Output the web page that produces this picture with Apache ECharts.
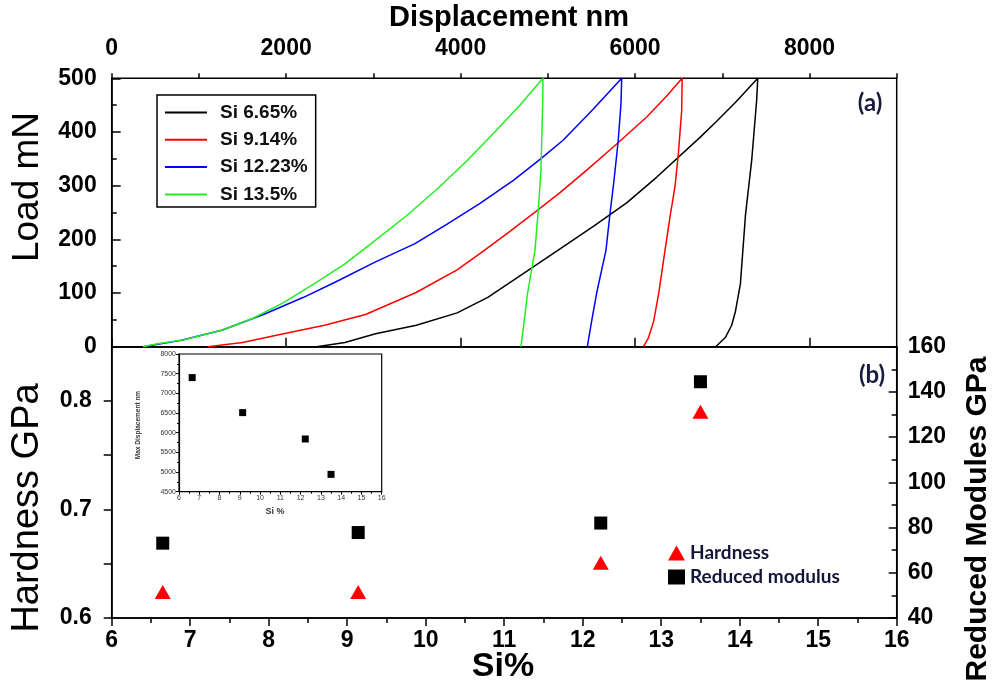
<!DOCTYPE html>
<html><head><meta charset="utf-8">
<script src="https://cdn.jsdelivr.net/npm/echarts@6/dist/echarts.min.js"></script>
<style>html,body{margin:0;padding:0;background:#fff}#c{width:993px;height:690px}</style>
</head><body><div id="c"></div>
<script>
// ---- data ----
const curveNames = ['Si 6.65%', 'Si 9.14%', 'Si 12.23%', 'Si 13.5%'];
// [displacement nm, load mN] : loading then unloading
const curveSi665 = [[2350,0],[2674,8],[3025,24],[3493,40],[3961,63],[4312,92],[4663,130],[5102,178],[5522,224],[5904,268],[6250,316],[6745,390],[6936,420],[7150,455],[7407,500],
  [7395,460],[7338,348],[7266,245],[7208,117],[7150,65],[7108,40],[7035,17],[6925,0]];
const curveSi914 = [[1100,0],[1500,8],[1970,24],[2440,40],[2910,60],[3490,101],[3960,143],[4261,178],[4566,215],[4872,253],[5140,287],[5446,329],[5751,372],[6134,428],[6363,467],[6540,500],
  [6535,440],[6497,360],[6458,298],[6401,242],[6344,180],[6272,100],[6213,47],[6150,15],[6096,0]];
const curveSi1223 = [[360,0],[800,12],[1270,31],[1740,60],[2200,92],[2560,120],[3025,158],[3477,192],[3841,228],[4223,267],[4605,310],[4911,349],[5178,385],[5522,443],[5847,500],
  [5839,453],[5808,385],[5759,310],[5713,248],[5667,180],[5560,100],[5505,50],[5453,0]];
const curveSi135 = [[360,0],[510,5],[830,13],[1270,31],[1620,53],[1970,82],[2320,117],[2670,154],[2960,190],[3380,244],[3760,298],[4070,346],[4375,397],[4680,450],[4945,500],
  [4942,460],[4922,330],[4891,255],[4853,180],[4768,100],[4731,50],[4692,0]];

const siPercent = [6.65, 9.14, 12.23, 13.5];
const hardnessGPa = [0.624, 0.624, 0.651, 0.790];
const reducedModulusGPa = [73.1, 77.8, 82.0, 144.5];
const maxDisplacementNm = [7400, 6510, 5840, 4940];

const hardnessTickLabels = [0.6, 0.7, 0.8];
const displacementTickLabels = [0, 2000, 4000, 6000, 8000];

// ---- chart ----
const colors = ['#000000', '#ff0000', '#0000ff', '#22ee22'];
const curves = [curveSi665, curveSi914, curveSi1223, curveSi135];
const F = 'Liberation Sans, Arial, sans-serif';
const lbl = (extra) => Object.assign({fontFamily: F, fontWeight: 'bold', fontSize: 23, color: '#000'}, extra);
const axLine = {show: true, lineStyle: {color: '#000', width: 1.5}};

const chart = echarts.init(document.getElementById('c'));
const option = {
  animation: false,
  backgroundColor: '#fff',
  grid: [
    {left: 111.7, top: 78.3, width: 785, height: 268.4, show: true, borderColor: '#000', borderWidth: 1.5},
    {left: 111.7, top: 346.7, width: 785, height: 271.3, show: true, borderColor: '#000', borderWidth: 1.5},
    {left: 179, top: 354, width: 202.7, height: 137.7, show: true, borderColor: '#000', borderWidth: 1.2}
  ],
  xAxis: [
    {gridIndex: 0, type: 'value', position: 'top', min: 0, max: 9000, interval: 2000,
      axisLine: axLine, axisTick: {show: true, inside: false, length: 9, lineStyle: {width: 1.5}},
      axisLabel: lbl({margin: 18, showMaxLabel: false,
        formatter: v => displacementTickLabels.includes(v) ? String(v) : ''}),
      splitLine: {show: false}},
    {gridIndex: 0, type: 'value', position: 'top', min: 0, max: 9000, interval: 1000,
      axisLine: {show: false}, axisTick: {show: true, inside: false, length: 5, lineStyle: {width: 1.5, color: '#000'}},
      axisLabel: {show: false}, splitLine: {show: false}},
    {gridIndex: 1, type: 'value', position: 'bottom', min: 6, max: 16, interval: 1,
      axisLine: axLine, axisTick: {show: true, inside: false, length: 8, lineStyle: {width: 1.5}},
      minorTick: {show: true, splitNumber: 2, length: 5, lineStyle: {color: '#000', width: 1.5}},
      axisLabel: lbl({margin: 11}), splitLine: {show: false}, minorSplitLine: {show: false}},
    {gridIndex: 2, type: 'value', position: 'bottom', min: 6, max: 16, interval: 1,
      axisLine: {show: true, lineStyle: {color: '#000', width: 1.2}},
      axisTick: {show: true, inside: false, length: 3, lineStyle: {width: 1}},
      minorTick: {show: true, splitNumber: 2, length: 2, lineStyle: {color: '#000'}},
      axisLabel: {fontFamily: F, fontSize: 7, color: '#333', margin: 3}, splitLine: {show: false}}
  ],
  yAxis: [
    {gridIndex: 0, type: 'value', position: 'left', min: 0, max: 500, interval: 100,
      axisLine: axLine, axisTick: {show: true, inside: true, length: 9, lineStyle: {width: 1.5}},
      minorTick: {show: true, splitNumber: 2, length: 5, lineStyle: {color: '#000', width: 1.5}},
      axisLabel: lbl({margin: 15}), splitLine: {show: false}, minorSplitLine: {show: false}},
    {gridIndex: 1, type: 'value', position: 'left', min: 0.6, max: 0.85, interval: 0.05,
      axisLine: axLine, axisTick: {show: true, inside: false, length: 8, lineStyle: {width: 1.5}},
      axisLabel: lbl({margin: 20, showMaxLabel: false,
        formatter: v => hardnessTickLabels.some(t => Math.abs(t - v) < 1e-6) ? v.toFixed(1) : ''}),
      splitLine: {show: false}},
    {gridIndex: 1, type: 'value', position: 'right', min: 40, max: 160, interval: 20,
      axisLine: axLine, axisTick: {show: true, inside: true, length: 8, lineStyle: {width: 1.5}},
      minorTick: {show: true, splitNumber: 2, length: 5, lineStyle: {color: '#000', width: 1.5}},
      axisLabel: lbl({margin: 11}), splitLine: {show: false}, minorSplitLine: {show: false}},
    {gridIndex: 2, type: 'value', position: 'left', min: 4500, max: 8000, interval: 500,
      axisLine: {show: true, lineStyle: {color: '#000', width: 1.2}},
      axisTick: {show: true, inside: false, length: 3, lineStyle: {width: 1}},
      minorTick: {show: true, splitNumber: 2, length: 2, lineStyle: {color: '#000'}},
      axisLabel: {fontFamily: F, fontSize: 7, color: '#333', margin: 3, formatter: v => String(v)}, splitLine: {show: false}}
  ],
  legend: [
    {left: 157, top: 95, orient: 'vertical', selectedMode: false,
      data: curveNames.map(n => ({name: n, icon: 'rect'})),
      itemWidth: 42, itemHeight: 2, itemGap: 8.3, padding: [8, 8, 3, 8],
      borderColor: '#000', borderWidth: 1.5, backgroundColor: '#fff',
      textStyle: {fontFamily: F, fontWeight: 'bold', fontSize: 19, color: '#111', padding: [0, 0, 0, 8]}},
    {left: 663, top: 538.5, orient: 'vertical', selectedMode: false,
      data: [{name: 'Hardness', icon: 'triangle'}, {name: 'Reduced modulus', icon: 'rect'}],
      itemWidth: 17, itemHeight: 15, itemGap: 5,
      textStyle: {fontFamily: 'Lato, Noto Sans, sans-serif', fontWeight: 'bold', fontSize: 19, color: '#15153a'}}
  ],
  series: [
    ...curves.map((c, i) => ({
      type: 'line', name: curveNames[i], data: c, xAxisIndex: 0, yAxisIndex: 0,
      symbol: 'none', silent: true, lineStyle: {color: colors[i], width: 1.5}, itemStyle: {color: colors[i]}
    })),
    {type: 'scatter', name: 'Hardness', xAxisIndex: 2, yAxisIndex: 1,
      data: siPercent.map((s, i) => [s, hardnessGPa[i]]),
      symbol: 'triangle', symbolSize: [16, 14], itemStyle: {color: '#ff0000', opacity: 1}},
    {type: 'scatter', name: 'Reduced modulus', xAxisIndex: 2, yAxisIndex: 2,
      data: siPercent.map((s, i) => [s, reducedModulusGPa[i]]),
      symbol: 'rect', symbolSize: 13, itemStyle: {color: '#000', opacity: 1}},
    {type: 'scatter', name: 'Max Displacement', xAxisIndex: 3, yAxisIndex: 3,
      data: siPercent.map((s, i) => [s, maxDisplacementNm[i]]),
      symbol: 'rect', symbolSize: 7, itemStyle: {color: '#000', opacity: 1}}
  ],
  graphic: [
    {type: 'text', x: 509, y: 18, style: {text: 'Displacement nm', font: 'bold 29px ' + F, fill: '#000', textAlign: 'center', textVerticalAlign: 'middle'}},
    {type: 'text', x: 28, y: 187, rotation: Math.PI / 2, style: {text: 'Load mN', font: '37px ' + F, fill: '#000', textAlign: 'center', textVerticalAlign: 'middle'}},
    {type: 'text', x: 28, y: 508, rotation: Math.PI / 2, style: {text: 'Hardness GPa', font: '38px ' + F, fill: '#000', textAlign: 'center', textVerticalAlign: 'middle'}},
    {type: 'text', x: 503, y: 667, style: {text: 'Si%', font: 'bold 34px ' + F, fill: '#000', textAlign: 'center', textVerticalAlign: 'middle'}},
    {type: 'text', x: 978, y: 519, rotation: Math.PI / 2, style: {text: 'Reduced Modules GPa', font: 'bold 30px ' + F, fill: '#000', textAlign: 'center', textVerticalAlign: 'middle'}},
    {type: 'text', x: 870, y: 103, style: {text: '(a)', font: 'bold 24px Lato, Noto Sans, sans-serif', fill: '#1a1a3c', textAlign: 'center', textVerticalAlign: 'middle'}},
    {type: 'text', x: 872, y: 375, style: {text: '(b)', font: 'bold 24px Lato, Noto Sans, sans-serif', fill: '#1a1a3c', textAlign: 'center', textVerticalAlign: 'middle'}},
    {type: 'text', x: 275, y: 512, style: {text: 'Si %', font: 'bold 9px ' + F, fill: '#333', textAlign: 'center', textVerticalAlign: 'middle'}},
    {type: 'text', x: 138, y: 425, rotation: Math.PI / 2, style: {text: 'Max Displacement nm', font: 'bold 6.5px ' + F, fill: '#333', textAlign: 'center', textVerticalAlign: 'middle'}}
  ]
};
chart.setOption(option);
</script></body></html>
